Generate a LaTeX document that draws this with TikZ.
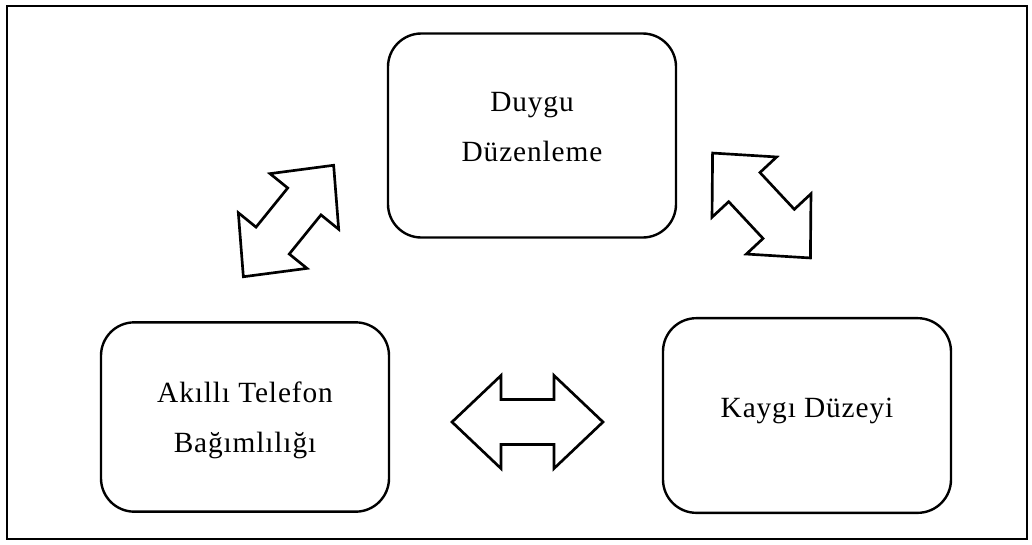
\documentclass[tikz,border=0pt]{standalone}
\usepackage{fontspec}
\setmainfont{Liberation Serif}
\usepackage{tikz}
\usetikzlibrary{positioning,calc}

\tikzset{
  kutu/.style={draw, line width=1.8pt, rounded corners=25pt},
  metin/.style={align=center, inner sep=0pt,
    font=\fontsize{22}{37.5}\selectfont\addfontfeatures{LetterSpace=3}},
  pics/okcift/.style={code={
    \draw[line width=2pt, line join=miter]
      (-75.5,0) -- (-26.5,-46.5) -- (-26.5,-22.5) -- (26.5,-22.5)
      -- (26.5,-46.5) -- (75.5,0) -- (26.5,46.5) -- (26.5,22.5)
      -- (-26.5,22.5) -- (-26.5,46.5) -- cycle;
  }}
}

\begin{document}
\begin{tikzpicture}[x=0.75pt, y=-0.75pt]
        \useasboundingbox (0,0) rectangle (1032,544);

        % Frame
        \draw[line width=2.2pt] (7,6) rectangle (1027,539);

        % Boxes
        \node[kutu, minimum width=216pt, minimum height=153pt] (duygu) at (532,135.5) {};
        \node[kutu, minimum width=216pt, minimum height=142pt] (telefon) at (245,417) {};
        \node[kutu, minimum width=216pt, minimum height=146pt] (kaygi) at (807,415.5) {};

        % Texts
        \node[metin, yshift=6pt] (duyguyazi) at (duygu) {Duygu\\Düzenleme};
        \node[metin, yshift=-2.5pt] (telefonyazi) at (telefon) {Akıllı Telefon\\Bağımlılığı};
        \node[metin, yshift=3.5pt] (kaygiyazi) at (kaygi) {Kaygı Düzeyi};

        % Double arrows
        \pic[rotate=51, scale=0.95] at (288.5,221) {okcift};
        \pic[rotate=-47, scale=0.95] at (761.5,205.5) {okcift};
        \pic at (527.5,422) {okcift};
    \end{tikzpicture}
\end{document}
